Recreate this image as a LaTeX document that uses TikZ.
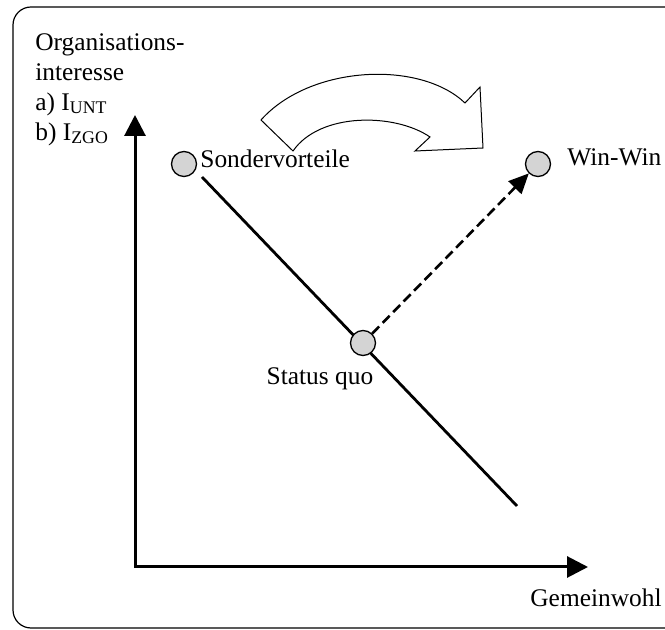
\documentclass[tikz,border=0pt]{standalone}
\usepackage{fontspec}
\setmainfont{Liberation Serif}
\usetikzlibrary{arrows.meta,positioning}

\begin{document}
\begin{tikzpicture}[x=0.5pt,y=-0.5pt,
	txt/.style={font=\fontsize{12.7}{15}\selectfont,inner sep=0pt},
	dot/.style={circle,draw,line width=.65pt,fill=black!17,minimum size=12.5pt,inner sep=0pt},
	axis/.style={line width=1.5pt,line join=miter,{Triangle[length=10.5pt,width=10.5pt]}-{Triangle[length=10.5pt,width=10.5pt]}}]
	\useasboundingbox (0,0) rectangle (665,630);
	\clip (0,0) rectangle (665,630);
	% frame
	\draw[line width=.6pt,rounded corners=9pt] (13,7) rectangle (690,628);
	% axes
	\coordinate (o) at (135,567);
	\coordinate (ytip) at (135,115);
	\coordinate (xtip) at (588,567);
	\draw[axis] (ytip) -- (o) -- (xtip);
	\node[txt,anchor=north west,align=left] (ylab) at (35,33)
	{Organisations-\\interesse\\a) I\textsubscript{UNT}\\b) I\textsubscript{ZGO}};
	\node[txt,anchor=base west] (xlab) at (530,607) {Gemeinwohl};
	% line
	\coordinate (lstart) at (202,177);
	\coordinate (lend) at (517,506);
	\draw[line width=1.4pt] (lstart) -- (lend);
	% points
	\node[dot] (sv) at (184,164) {};
	\node[dot] (sq) at (363,343) {};
	\node[dot] (ww) at (538,164) {};
	\node[txt,anchor=base west] (svtxt) at (200,168) {Sondervorteile};
	\node[txt,anchor=base] (sqtxt) at (320,385) {Status quo};
	\node[txt,anchor=base west] (wwtxt) at (567,166) {Win-Win};
	\draw[line width=1.3pt,dash pattern=on 5pt off 2.5pt,-{Triangle[length=10pt,width=9pt]}] (sq) -- (ww);
	% curved arrow
	\draw[line width=.5pt,fill=white] (261,120) .. controls (310,65) and (420,60) .. (465,103)
	-- (480,87) -- (483,148) -- (415,151) -- (430,137)
	.. controls (395,113) and (320,112) .. (293,151) -- cycle;
\end{tikzpicture}
\end{document}
